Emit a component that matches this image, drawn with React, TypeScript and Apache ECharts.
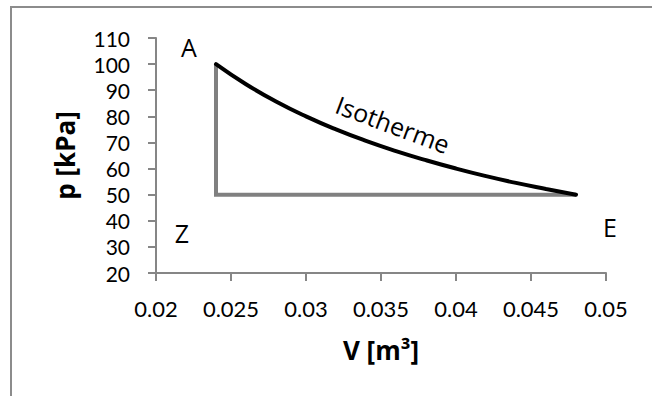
import React, { useEffect, useRef } from "react";
import * as echarts from "echarts";

// Isotherm readings (V in m³, p in kPa)
const isoV = [0.024, 0.026, 0.028, 0.03, 0.032, 0.034, 0.036, 0.038, 0.04, 0.042, 0.044, 0.046, 0.048];
const isoP = [100, 92.3, 85.7, 80, 75, 70.6, 66.7, 63.2, 60, 57.1, 54.5, 52.2, 50];
// Gray path: E -> Z corner -> A (isobaric + isochoric)
const pathV = [0.048, 0.024, 0.024];
const pathP = [50, 50, 100];

const xMin = 0.02;
const xMax = 0.05;
const xStep = 0.005;
const yMin = 20;
const yMax = 110;
const yStep = 10;

const xName = "V [m³]";
const yName = "p [kPa]";

const FONT = "'Open Sans', 'DejaVu Sans', sans-serif";
const TICK_FONT = "Lato, 'Open Sans', sans-serif";

export default function App() {
  const ref = useRef<HTMLDivElement>(null);
  useEffect(() => {
    if (!ref.current) return;
    const chart = echarts.init(ref.current, null, { renderer: "svg" });
    const axisColor = "#868686";
    chart.setOption({
      animation: false,
      backgroundColor: "#ffffff",
      textStyle: { fontFamily: FONT },
      grid: { left: 156, right: 46, top: 38, bottom: 123, containLabel: false },
      xAxis: {
        type: "value",
        min: xMin,
        max: xMax,
        interval: xStep,
        name: xName,
        nameLocation: "middle",
        nameGap: 64,
        nameTextStyle: { fontFamily: FONT, fontSize: 26, fontWeight: "bold", color: "#000" },
        axisLine: { show: true, lineStyle: { color: axisColor, width: 2 } },
        axisTick: { show: true, length: 8, lineStyle: { color: axisColor, width: 2 } },
        axisLabel: {
          margin: 24,
          fontFamily: TICK_FONT,
          fontSize: 22,
          color: "#000",
          formatter: (v: number) => String(parseFloat(v.toFixed(4))),
        },
        splitLine: { show: false },
      },
      yAxis: {
        type: "value",
        min: yMin,
        max: yMax,
        interval: yStep,
        name: yName,
        nameLocation: "middle",
        nameGap: 78,
        nameRotate: 90,
        nameTextStyle: { fontFamily: FONT, fontSize: 26, fontWeight: "bold", color: "#000" },
        axisLine: { show: true, lineStyle: { color: axisColor, width: 2 } },
        axisTick: { show: true, length: 8, lineStyle: { color: axisColor, width: 2 } },
        axisLabel: { margin: 26, fontFamily: TICK_FONT, fontSize: 21, lineHeight: 21, color: "#000" },
        splitLine: { show: false },
      },
      series: [
        {
          type: "line",
          data: pathV.map((v, i) => [v, pathP[i]]),
          symbol: "none",
          lineStyle: { color: "#808080", width: 4, cap: "butt", join: "miter" },
          z: 2,
        },
        {
          type: "line",
          data: isoV.map((v, i) => [v, isoP[i]]),
          symbol: "none",
          smooth: true,
          lineStyle: { color: "#000000", width: 4, cap: "round" },
          z: 3,
        },
      ],
      graphic: [
        {
          type: "rect",
          shape: { x: 11, y: 7, width: 800, height: 600 },
          style: { fill: "none", stroke: "#8c8c8c", lineWidth: 2 },
          silent: true,
        },
        {
          type: "text",
          x: 189,
          y: 47,
          style: { text: "A", font: `25px ${FONT}`, fill: "#000", align: "center", verticalAlign: "middle" },
        },
        {
          type: "text",
          x: 182,
          y: 233,
          style: { text: "Z", font: `25px ${FONT}`, fill: "#000", align: "center", verticalAlign: "middle" },
        },
        {
          type: "text",
          x: 610,
          y: 227,
          style: { text: "E", font: `25px ${FONT}`, fill: "#000", align: "center", verticalAlign: "middle" },
        },
        {
          type: "text",
          x: 393,
          y: 124,
          rotation: -20.5 * Math.PI / 180,
          style: { text: "Isotherme", font: `25px ${FONT}`, fill: "#000", align: "center", verticalAlign: "middle" },
        },
      ],
    });
    return () => chart.dispose();
  }, []);
  return (
    <div
      ref={ref}
      style={{ position: "fixed", left: 0, top: 0, width: 652, height: 396 }}
    />
  );
}
